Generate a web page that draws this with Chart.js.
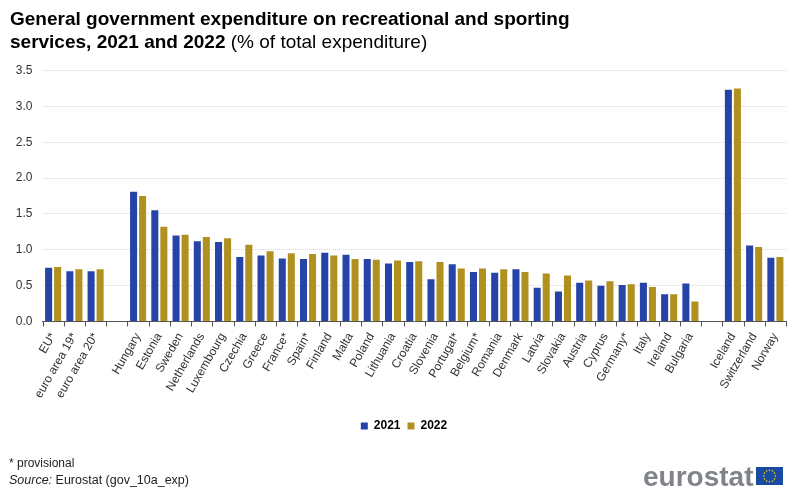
<!DOCTYPE html>
<html><head><meta charset="utf-8">
<script src="https://cdn.jsdelivr.net/npm/chart.js@4"></script>
<style>
html,body{margin:0;padding:0;background:#fff;width:800px;height:495px;overflow:hidden;font-family:"Liberation Sans",Arial,sans-serif}
#w{position:relative;width:800px;height:495px}
canvas{position:absolute;left:0;top:0}
.t{position:absolute;white-space:nowrap;color:#000}
#title{left:10px;top:7px;font-size:19px;line-height:23px}
#title b{font-weight:bold}
#prov{left:9px;top:456px;font-size:12px;line-height:14px;color:#222}
#src{left:9px;top:473px;font-size:12.5px;line-height:14px;color:#222}
#logo{left:643px;top:461px;font-size:28px;line-height:32px;font-weight:bold;color:#80848a}
#flag{position:absolute;left:756px;top:467px}
</style></head><body><div id="w">
<canvas id="c" width="800" height="495"></canvas>
<div class="t" id="title"><b>General government expenditure on recreational and sporting<br>services, 2021 and 2022</b> (% of total expenditure)</div>
<div class="t" id="prov">* provisional</div>
<div class="t" id="src"><i>Source:</i> Eurostat (gov_10a_exp)</div>
<div class="t" id="logo">eurostat</div>
<svg id="flag" width="27" height="18" viewBox="0 0 27 18"><rect width="27" height="18" fill="#1a4ba0"/><g id="st" fill="#f5d90a"></g></svg>
</div>
<script>
const categories=["EU*","euro area 19*","euro area 20*","","Hungary","Estonia","Sweden","Netherlands","Luxembourg","Czechia","Greece","France*","Spain*","Finland","Malta","Poland","Lithuania","Croatia","Slovenia","Portugal*","Belgium*","Romania","Denmark","Latvia","Slovakia","Austria","Cyprus","Germany*","Italy","Ireland","Bulgaria","","Iceland","Switzerland","Norway"];
const values2021=[0.75,0.70,0.70,null,1.81,1.55,1.20,1.12,1.11,0.90,0.92,0.88,0.87,0.96,0.93,0.87,0.81,0.83,0.59,0.80,0.69,0.68,0.73,0.47,0.42,0.54,0.50,0.51,0.54,0.38,0.53,null,3.23,1.06,0.89];
const values2022=[0.76,0.73,0.73,null,1.75,1.32,1.21,1.18,1.16,1.07,0.98,0.95,0.94,0.92,0.87,0.86,0.85,0.84,0.83,0.74,0.74,0.73,0.69,0.67,0.64,0.57,0.56,0.52,0.48,0.38,0.28,null,3.25,1.04,0.90];
const starCount=12;
const g=document.getElementById('st');
for(let i=0;i<starCount;i++){const a=i/starCount*2*Math.PI;const c=document.createElementNS('http://www.w3.org/2000/svg','circle');c.setAttribute('cx',13.5+5.8*Math.cos(a));c.setAttribute('cy',9+5.8*Math.sin(a));c.setAttribute('r',0.8);g.appendChild(c);}
Chart.defaults.animation=false;
new Chart(document.getElementById('c'),{
 type:'bar',
 data:{labels:categories,datasets:[
  {label:'2021',data:values2021,backgroundColor:'#2644a7',borderWidth:0},
  {label:'2022',data:values2022,backgroundColor:'#b09120',borderWidth:0}]},
 options:{responsive:false,maintainAspectRatio:false,
  categoryPercentage:0.85,barPercentage:0.78,
  layout:{padding:{left:0,right:14,top:70.5,bottom:53}},
  plugins:{tooltip:{enabled:false},title:{display:false},
   legend:{position:'bottom',labels:{boxWidth:7,boxHeight:7,padding:7,color:'#000',font:{family:'"Liberation Sans"',size:12,weight:'bold'}}}},
  scales:{
   x:{grid:{display:false},border:{color:'#555',width:1},
      afterFit(s){s.height=91.5;},
      ticks:{autoSkip:false,minRotation:60,maxRotation:60,color:'#333',font:{family:'"Liberation Sans"',size:12},padding:1}},
   y:{min:0,max:3.5,afterFit(s){s.width=42.5;},
      border:{display:false,dash:[1,1]},
      grid:{color:'#d6d6d6',lineWidth:1,drawTicks:false},
      ticks:{stepSize:0.5,padding:10,color:'#333',font:{family:'"Liberation Sans"',size:12},callback:v=>v.toFixed(1)}}
  }},
 plugins:[{id:'shiftLegend',afterLayout(ch){ch.legend.left+=11;ch.legend.right+=11;}},
 {id:'xticks',afterDraw(ch){const c=ch.ctx,b=ch.chartArea.bottom;c.save();c.strokeStyle='#555';c.lineWidth=1;const step=(ch.chartArea.right-ch.chartArea.left)/categories.length;for(let i=0;i<=categories.length;i++){const p=Math.round(ch.chartArea.left+i*step)+.5;c.beginPath();c.moveTo(p,b);c.lineTo(p,b+5);c.stroke();}c.restore();}}]
});
</script></body></html>
